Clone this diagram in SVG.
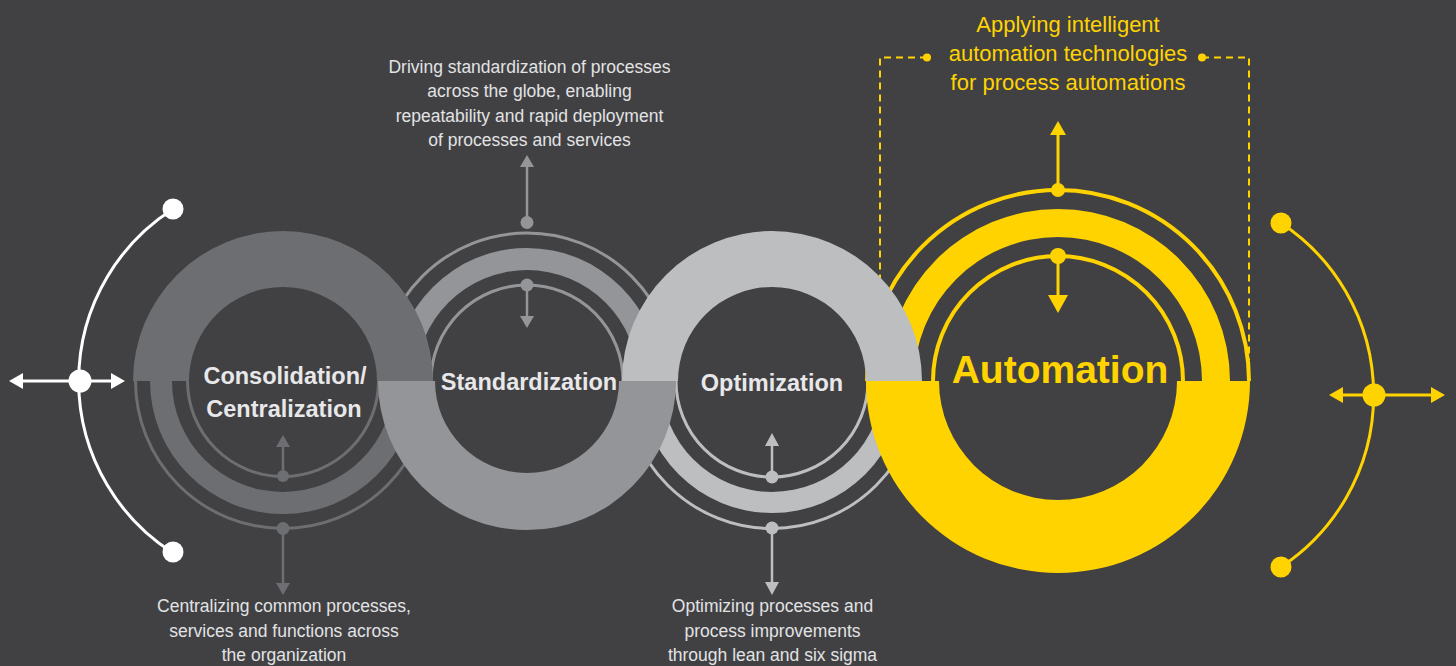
<svg xmlns="http://www.w3.org/2000/svg" width="1456" height="666" viewBox="0 0 1456 666">
<style>
.lbl{font-family:"Liberation Sans",Arial,sans-serif;font-weight:bold;font-size:23.5px;fill:#e8e8ea;text-anchor:middle}
.auto{font-family:"Liberation Sans",Arial,sans-serif;font-weight:bold;font-size:39px;fill:#ffd300;text-anchor:middle}
.desc{font-family:"Liberation Sans",Arial,sans-serif;font-size:17.5px;fill:#e2e3e5;text-anchor:middle}
.ydesc{font-family:"Liberation Sans",Arial,sans-serif;font-size:22px;fill:#ffd300;text-anchor:middle}
.c1{fill:#6d6e71}.c2{fill:#939598}.c3{fill:#bcbec0}.c4{fill:#ffd300}.cw{fill:#ffffff}
.r1{fill:none;stroke:#6d6e71;stroke-width:3}
.r2{fill:none;stroke:#939598;stroke-width:3}
.r3{fill:none;stroke:#bcbec0;stroke-width:3}
.r4{fill:none;stroke:#ffd300;stroke-width:4}
.l1{stroke:#6d6e71;stroke-width:2.5;fill:none}
.l2{stroke:#939598;stroke-width:2.5;fill:none}
.l3{stroke:#bcbec0;stroke-width:2.5;fill:none}
.l4{stroke:#ffd300;stroke-width:3;fill:none}
.lw{stroke:#ffffff;stroke-width:3;fill:none}
.ly{stroke:#ffd300;stroke-width:3;fill:none}
.dash{stroke:#ffd300;stroke-width:2;fill:none;stroke-dasharray:7 5}
</style>
<defs>
<marker id="a1" viewBox="0 0 12 14" refX="0" refY="7" markerWidth="12" markerHeight="14" markerUnits="userSpaceOnUse" orient="auto"><path d="M0,0 L12,7 L0,14 Z" fill="#6d6e71"/></marker>
<marker id="a2" viewBox="0 0 12 14" refX="0" refY="7" markerWidth="12" markerHeight="14" markerUnits="userSpaceOnUse" orient="auto"><path d="M0,0 L12,7 L0,14 Z" fill="#939598"/></marker>
<marker id="a3" viewBox="0 0 13 14" refX="0" refY="7" markerWidth="13" markerHeight="14" markerUnits="userSpaceOnUse" orient="auto"><path d="M0,0 L13,7 L0,14 Z" fill="#bcbec0"/></marker>
<marker id="a4s" viewBox="0 0 14 16" refX="0" refY="8" markerWidth="14" markerHeight="16" markerUnits="userSpaceOnUse" orient="auto"><path d="M0,0 L14,8 L0,16 Z" fill="#ffd300"/></marker>
<marker id="a4b" viewBox="0 0 18 20" refX="0" refY="10" markerWidth="18" markerHeight="20" markerUnits="userSpaceOnUse" orient="auto"><path d="M0,0 L18,10 L0,20 Z" fill="#ffd300"/></marker>
<marker id="aw" viewBox="0 0 14 16" refX="0" refY="8" markerWidth="14" markerHeight="16" markerUnits="userSpaceOnUse" orient="auto-start-reverse"><path d="M0,0 L14,8 L0,16 Z" fill="#ffffff"/></marker>
<marker id="ay" viewBox="0 0 14 16" refX="0" refY="8" markerWidth="14" markerHeight="16" markerUnits="userSpaceOnUse" orient="auto-start-reverse"><path d="M0,0 L14,8 L0,16 Z" fill="#ffd300"/></marker>
</defs>
<rect width="1456" height="666" fill="#414143"/>

<g id="bracket-automation">
<path class="dash" d="M927,57.5 H880 V290"/>
<path class="dash" d="M1202,57.5 H1249 V360"/>
<circle class="c4" cx="927" cy="57.5" r="4"/>
<circle class="c4" cx="1202" cy="57.5" r="4"/>
</g>

<g id="rings">
<g id="rings-consolidation">
<path class="r1" d="M135.5,381 A147.5,147.5 0 0 0 430.5,381"/>
<path class="c1" d="M150,381 A133,133 0 0 0 416,381 L394,381 A111,111 0 0 1 172,381 Z"/>
<path class="r1" d="M187.5,381 A95.5,95.5 0 0 0 378.5,381"/>
</g>
<g id="rings-standardization">
<path class="r2" d="M379,381 A148,148 0 0 1 675,381"/>
<path class="c2" d="M394,381 A133,133 0 0 1 660,381 L638,381 A111,111 0 0 0 416,381 Z"/>
<path class="r2" d="M431,381 A96,96 0 0 1 623,381"/>
</g>
<g id="rings-optimization">
<path class="r3" d="M624.5,381 A147.5,147.5 0 0 0 919.5,381"/>
<path class="c3" d="M640,381 A132,132 0 0 0 904,381 L883,381 A111,111 0 0 1 661,381 Z"/>
<path class="r3" d="M676,381 A96,96 0 0 0 868,381"/>
</g>
<g id="rings-automation">
<path class="r4" d="M867,381 A191,191 0 0 1 1249,381"/>
<path class="c4" d="M886,381 A172,172 0 0 1 1230,381 L1202,381 A144,144 0 0 0 914,381 Z"/>
<path class="r4" d="M933,381 A125,125 0 0 1 1183,381"/>
</g>
</g>

<g id="node-consolidation">
<path class="c1" d="M133,381 A150,150 0 0 1 433,381 L377,381 A94,94 0 0 0 189,381 Z"/>
<text class="lbl" x="285" y="384">Consolidation/</text>
<text class="lbl" x="284" y="417">Centralization</text>
<text class="desc" x="284" y="612">Centralizing common processes,</text>
<text class="desc" x="284" y="636.5">services and functions across</text>
<text class="desc" x="284" y="660.5">the organization</text>
</g>
<g id="node-standardization">
<path class="c2" d="M378,381 A149,149 0 0 0 676,381 L619,381 A92,92 0 0 1 435,381 Z"/>
<text class="lbl" x="529" y="390">Standardization</text>
<text class="desc" x="529.5" y="72.5">Driving standardization of processes</text>
<text class="desc" x="529.5" y="97">across the globe, enabling</text>
<text class="desc" x="529.5" y="121.5">repeatability and rapid deployment</text>
<text class="desc" x="529.5" y="145.5">of processes and services</text>
</g>
<g id="node-optimization">
<path class="c3" d="M622,381 A150,150 0 0 1 922,381 L866,381 A94,94 0 0 0 678,381 Z"/>
<text class="lbl" x="772" y="391">Optimization</text>
<text class="desc" x="772.5" y="612">Optimizing processes and</text>
<text class="desc" x="772.5" y="636.5">process improvements</text>
<text class="desc" x="772.5" y="661">through lean and six sigma</text>
</g>
<g id="node-automation">
<path class="c4" d="M866,381 A192,192 0 0 0 1250,381 L1177,381 A119,119 0 0 1 939,381 Z"/>
<text class="auto" x="1060" y="383">Automation</text>
<text class="ydesc" x="1068" y="31.5">Applying intelligent</text>
<text class="ydesc" x="1068" y="60.5">automation technologies</text>
<text class="ydesc" x="1068" y="89.5">for process automations</text>
</g>

<g id="bracket-left">
<path class="lw" d="M173,209 A204,204 0 0 0 173,553" transform="translate(0,0)"/>
<circle class="cw" cx="173" cy="209" r="10.5"/>
<circle class="cw" cx="173" cy="552" r="10.5"/>
</g>
<g id="bracket-right">
<path class="ly" d="M1281,223 A206,206 0 0 1 1281,567"/>
<circle class="c4" cx="1281" cy="223" r="10.5"/>
<circle class="c4" cx="1281" cy="567" r="10.5"/>
</g>

<g id="connectors">
<path class="l1" d="M283,476 V447" marker-end="url(#a1)"/>
<circle class="c1" cx="283" cy="476" r="6"/>
<path class="l1" d="M283,528.5 V583" marker-end="url(#a1)"/>
<circle class="c1" cx="283" cy="528.5" r="6.5"/>

<path class="l2" d="M527,222.5 V167" marker-end="url(#a2)"/>
<circle class="c2" cx="527" cy="222.5" r="6.5"/>
<path class="l2" d="M527,285 V316" marker-end="url(#a2)"/>
<circle class="c2" cx="527" cy="285" r="6.5"/>

<path class="l3" d="M772,477 V446" marker-end="url(#a3)"/>
<circle class="c3" cx="772" cy="477" r="6.5"/>
<path class="l3" d="M772,528 V582" marker-end="url(#a3)"/>
<circle class="c3" cx="772" cy="528" r="6.5"/>

<path class="l4" d="M1058,190 V135" marker-end="url(#a4s)"/>
<circle class="c4" cx="1058" cy="190" r="7"/>
<path class="l4" d="M1058,256 V295" marker-end="url(#a4b)"/>
<circle class="c4" cx="1058" cy="256" r="8"/>

<path class="lw" d="M23,381 H111" marker-start="url(#aw)" marker-end="url(#aw)"/>
<circle class="cw" cx="80" cy="381" r="11.5"/>
<path class="ly" d="M1343,395 H1431" marker-start="url(#ay)" marker-end="url(#ay)"/>
<circle class="c4" cx="1374" cy="395" r="11.5"/>
</g>
</svg>
